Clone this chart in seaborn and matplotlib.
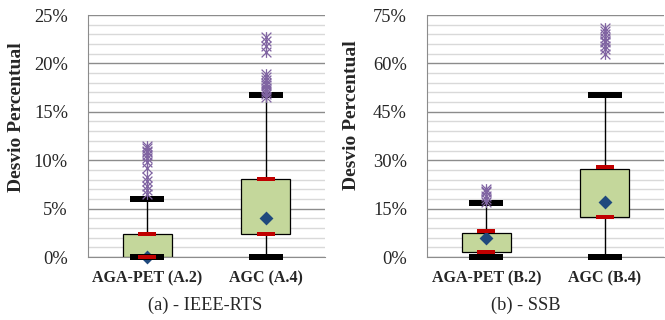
import numpy as np
import pandas as pd
import seaborn as sns
import matplotlib
matplotlib.use("Agg")
import matplotlib.pyplot as plt
from matplotlib.path import Path
from matplotlib.ticker import MultipleLocator, PercentFormatter, FixedLocator

# --- data (percent deviation) ---
cats_a = ["AGA-PET (A.2)", "AGC (A.4)"]
cats_b = ["AGA-PET (B.2)", "AGC (B.4)"]

q1_a = [0.0, 2.38]
q3_a = [2.34, 8.06]
red_a = [[0.0, 2.35], [2.35, 8.1]]      # red dashes (low, high)
mean_a = [0.0, 4.06]
min_a = [0.0, 0.0]
max_a = [5.96, 16.7]
out_a = [
    [6.5, 6.9, 7.3, 7.8, 8.3, 9.2, 9.8, 10.2, 10.5, 10.8, 11.0, 11.3, 11.5],
    [16.5, 16.8, 17.0, 17.3, 17.5, 17.8, 18.0, 18.3, 18.6, 18.9, 21.2, 21.8, 22.3, 22.7],
]

q1_b = [1.45, 12.4]
q3_b = [7.5, 27.3]
red_b = [[1.45, 8.0], [12.3, 27.9]]
mean_b = [5.8, 17.1]
min_b = [0.0, 0.0]
max_b = [16.6, 50.2]
out_b = [
    [17.0, 18.0, 19.0, 20.0, 20.5, 21.0],
    [63.0, 64.5, 65.5, 66.5, 67.0, 68.0, 69.0, 70.0, 71.0],
]

# --- style ---
sns.set_style("white")
plt.rcParams["font.family"] = ["Liberation Serif", "DejaVu Serif"]

BOX = "#c4d79b"
RED = "#c00000"
BLUE = "#1f497d"
PURPLE = "#8064a2"
MAJOR = "#8c8c8c"
MINOR = "#d9d9d9"

# custom markers: excel "star" (x with vertical bar) and flat dashes
star = Path([(-1, -1), (1, 1), (-1, 1), (1, -1), (0, -1.1), (0, 1.1)],
            [Path.MOVETO, Path.LINETO, Path.MOVETO, Path.LINETO, Path.MOVETO, Path.LINETO])


def dash(h):
    return Path([(-1, -h), (1, -h), (1, h), (-1, h), (-1, -h)],
                [Path.MOVETO, Path.LINETO, Path.LINETO, Path.LINETO, Path.CLOSEPOLY])


def panel(ax, cats, q1, q3, red, mean, mn, mx, outs, top, major, minor):
    pos = np.arange(len(cats))
    q1 = np.array(q1)
    q3 = np.array(q3)

    # whiskers
    ax.vlines(pos, mn, mx, color="black", lw=1, zorder=1.5)

    # boxes
    sns.barplot(x=cats, y=q3 - q1, bottom=q1, width=0.41, color=BOX, saturation=1,
                edgecolor="black", linewidth=0.9, errorbar=None, ax=ax, zorder=2)

    # mean
    sns.scatterplot(x=pos, y=mean, marker="D", s=50, color=BLUE, linewidth=0,
                    ax=ax, zorder=3, clip_on=False)

    # min / max bars
    ext = pd.DataFrame({"pos": np.concatenate([pos, pos]), "v": list(mn) + list(mx)})
    sns.scatterplot(data=ext, x="pos", y="v", marker=dash(0.2), s=600, color="black",
                    linewidth=0, ax=ax, zorder=4, clip_on=False)

    # quartile dashes
    rd = pd.DataFrame({"pos": np.repeat(pos, 2), "v": np.ravel(red)})
    sns.scatterplot(data=rd, x="pos", y="v", marker=dash(0.24), s=150, color=RED,
                    linewidth=0, ax=ax, zorder=5, clip_on=False)

    # outliers
    od = pd.DataFrame({"pos": np.concatenate([[p] * len(o) for p, o in zip(pos, outs)]),
                       "v": np.concatenate(outs)})
    sns.scatterplot(data=od, x="pos", y="v", marker=star, s=60, color=PURPLE,
                    edgecolor=PURPLE, linewidth=0.9, ax=ax, zorder=6, clip_on=False)

    ax.set_xlim(-0.5, len(cats) - 0.5)
    ax.set_ylim(0, top)
    ax.yaxis.set_major_locator(MultipleLocator(major))
    ax.yaxis.set_minor_locator(MultipleLocator(minor))
    ax.yaxis.set_major_formatter(PercentFormatter(xmax=100, decimals=0))
    ax.xaxis.set_minor_locator(FixedLocator([-0.5, 0.5, 1.5]))
    ax.set_xticks(pos)
    ax.set_xticklabels(cats, fontsize=11.5, fontweight="bold")
    ax.grid(axis="y", which="major", color=MAJOR, lw=1, zorder=0)
    ax.grid(axis="y", which="minor", color=MINOR, lw=1, zorder=0)
    ax.set_axisbelow(True)
    ax.tick_params(axis="x", which="major", length=0, pad=9.5)
    ax.tick_params(axis="x", which="minor", length=4, color=MAJOR, width=1)
    ax.tick_params(axis="y", which="major", length=6, color=MAJOR, width=1,
                   labelsize=13.3, pad=8.5)
    ax.tick_params(axis="y", which="minor", length=0)
    for s in ["top", "right"]:
        ax.spines[s].set_visible(False)
    ax.spines["left"].set_color(MAJOR)
    ax.spines["bottom"].set_color(MAJOR)
    ax.set_xlabel("")
    ax.set_ylabel("")


fig = plt.figure(figsize=(6.65, 3.2), dpi=100)
ax1 = fig.add_axes([88 / 665, 63 / 320, 237 / 665, 242 / 320])
ax2 = fig.add_axes([427 / 665, 63 / 320, 237 / 665, 242 / 320])

panel(ax1, cats_a, q1_a, q3_a, red_a, mean_a, min_a, max_a, out_a, 25, 5, 1)
panel(ax2, cats_b, q1_b, q3_b, red_b, mean_b, min_b, max_b, out_b, 75, 15, 3)

fig.text(17 / 665, 1 - 117 / 320, "Desvio Percentual", rotation=90, fontsize=14,
         fontweight="bold", ha="center", va="center")
fig.text(352 / 665, 1 - 115 / 320, "Desvio Percentual", rotation=90, fontsize=14,
         fontweight="bold", ha="center", va="center")
fig.text(205 / 665, 1 - 305 / 320, "(a) - IEEE-RTS", fontsize=13.2, ha="center", va="center")
fig.text(526 / 665, 1 - 305 / 320, "(b) - SSB", fontsize=13.2, ha="center", va="center")

fig.savefig("out.png", dpi=100)
